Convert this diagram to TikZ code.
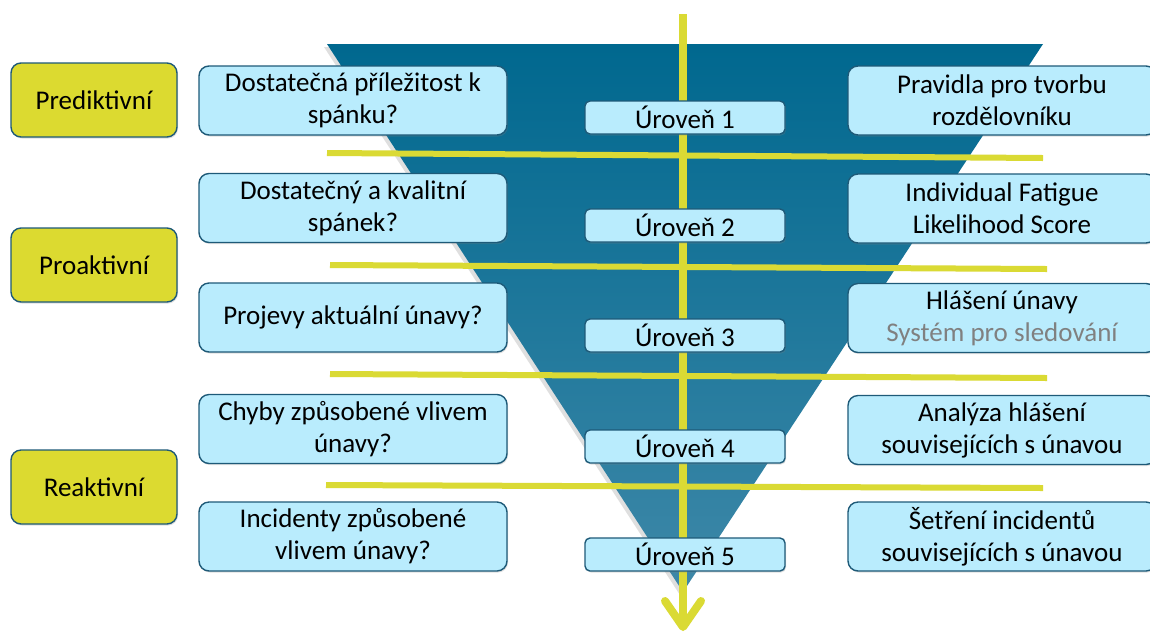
\documentclass[tikz,border=0pt]{standalone}
\usepackage{fontspec}
\setmainfont{Carlito}
\usetikzlibrary{arrows.meta,shadows}
\definecolor{catyellow}{RGB}{220,218,48}
\definecolor{lineyellow}{RGB}{218,218,52}
\definecolor{lightblue}{RGB}{185,236,253}
\definecolor{boxline}{RGB}{30,90,120}
\definecolor{funneltop}{RGB}{0,104,143}
\definecolor{funnelbot}{RGB}{62,136,168}
\definecolor{sysgray}{RGB}{128,128,128}
\begin{document}
\begin{tikzpicture}[x=1pt,y=-1pt,
  font=\fontsize{27}{32}\selectfont,
  basebox/.style={draw=boxline, line width=1.4pt, align=center, inner sep=0pt,
    drop shadow={shadow xshift=1pt, shadow yshift=-1.5pt, opacity=0.25}},
  catbox/.style={basebox, fill=catyellow, rounded corners=10pt, minimum width=166pt, minimum height=74pt},
  qbox/.style={basebox, fill=lightblue, rounded corners=10pt, minimum width=308pt, minimum height=69pt},
  lvlbox/.style={basebox, fill=lightblue, rounded corners=5pt, minimum width=200pt, minimum height=33pt},
  ansbox/.style={basebox, fill=lightblue, rounded corners=10pt, minimum width=308pt, minimum height=69pt},
  sepline/.style={draw=lineyellow, line width=6pt},
  mainarrow/.style={draw=lineyellow, line width=8pt, -{Straight Barb[length=26pt,width=36pt,round]}}
]
\useasboundingbox (0,0) rectangle (1150,633);
\clip (0,0) rectangle (1150,633);
\fill[white] (0,0) rectangle (1150,633);

% funnel
\path[top color=funneltop, bottom color=funnelbot,
  drop shadow={shadow xshift=-3pt, shadow yshift=-3pt, opacity=0.25}]
  (327,44) -- (1043,44) -- (683,592) -- cycle;

% separator lines
\path[sepline] (327,153) -- (1043,158);
\path[sepline] (330,265) -- (1047,269);
\path[sepline] (330,374) -- (1047,378);
\path[sepline] (326,485) -- (1043,488);

% central arrow
\coordinate (atop) at (683,14);
\coordinate (abot) at (683,631);
\draw[mainarrow] (atop) -- (abot);

% category boxes
\node[catbox] (pred) at (94,100) {Prediktivní};
\node[catbox] (proa) at (94,265) {Proaktivní};
\node[catbox] (reak) at (94,487) {Reaktivní};

% question boxes
\node[qbox] (q1) at (353,100.5) {Dostatečná příležitost k\\spánku?};
\node[qbox] (q2) at (353,208) {Dostatečný a kvalitní\\spánek?};
\node[qbox] (q3) at (353,317.5) {Projevy aktuální únavy?};
\node[qbox] (q4) at (353,429) {Chyby způsobené vlivem\\únavy?};
\node[qbox] (q5) at (353,536.5) {Incidenty způsobené\\vlivem únavy?};

% level boxes
\node[lvlbox] (l1) at (685,117.5) {Úroveň 1};
\node[lvlbox] (l2) at (685,225.5) {Úroveň 2};
\node[lvlbox] (l3) at (685,335.5) {Úroveň 3};
\node[lvlbox] (l4) at (685,446.5) {Úroveň 4};
\node[lvlbox] (l5) at (685,554.5) {Úroveň 5};

% answer boxes
\node[ansbox] (a1) at (1002,100.5) {Pravidla pro tvorbu\\rozdělovníku};
\node[ansbox] (a2) at (1002,208.5) {Individual Fatigue\\Likelihood Score};
\node[ansbox] (a3) at (1002,318) {Hlášení únavy\\\textcolor{sysgray}{Systém pro sledování}};
\node[ansbox] (a4) at (1002,430) {Analýza hlášení\\souvisejících s únavou};
\node[ansbox] (a5) at (1002,536.5) {Šetření incidentů\\souvisejících s únavou};
\end{tikzpicture}
\end{document}
